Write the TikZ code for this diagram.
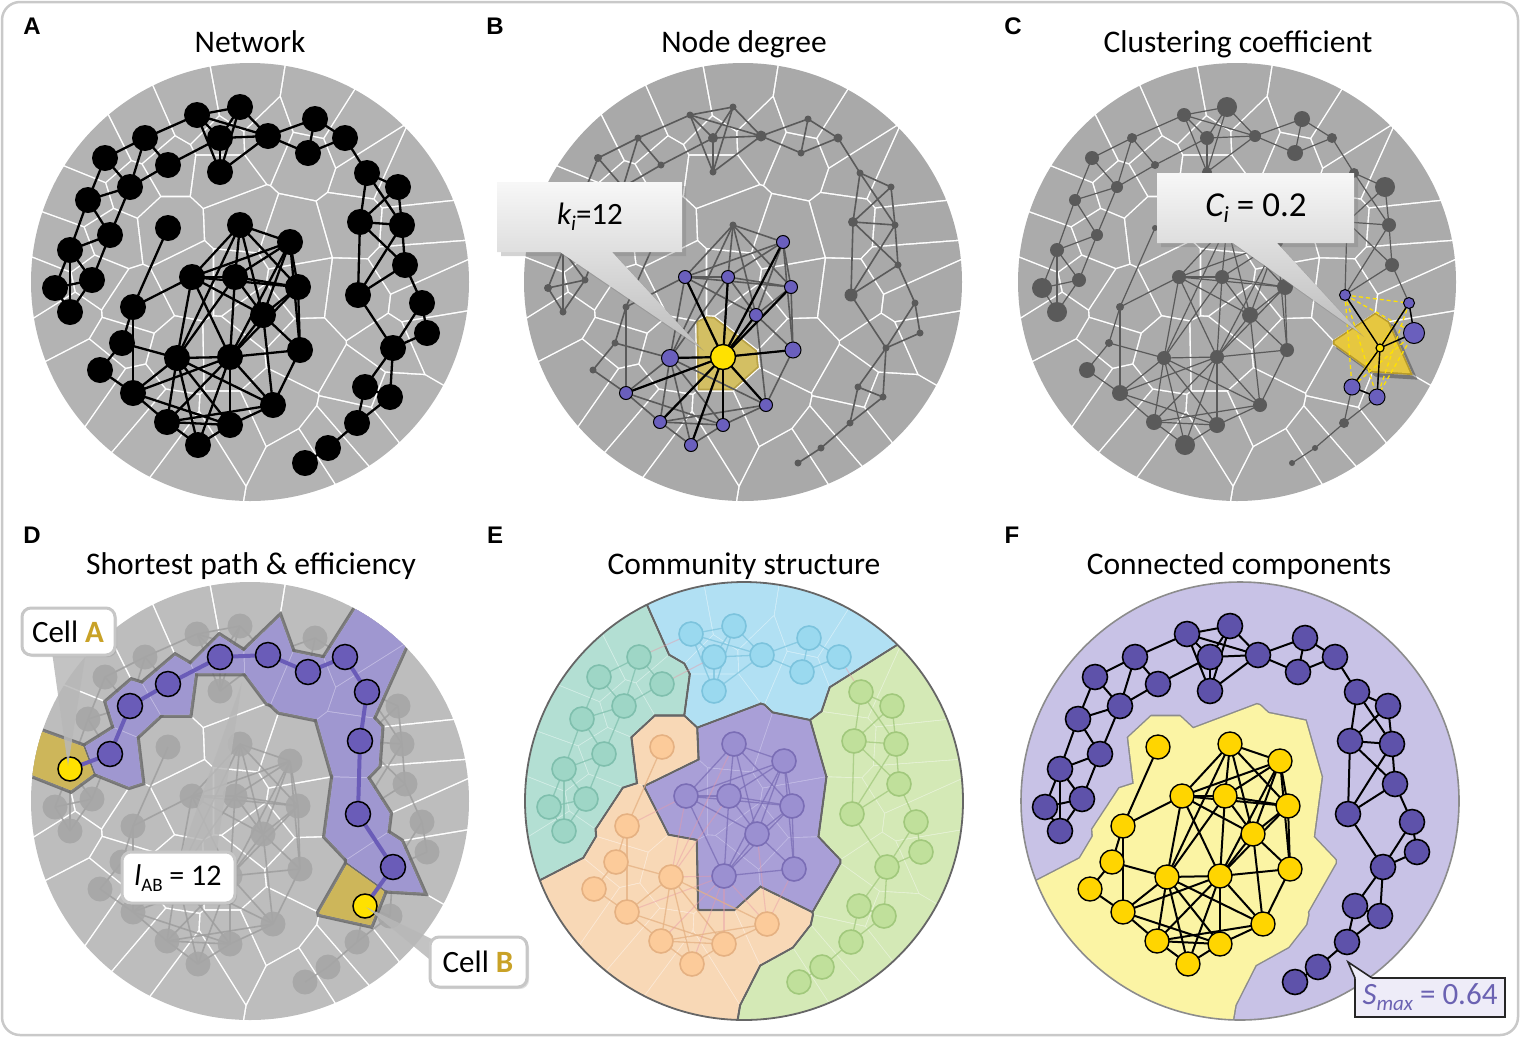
\documentclass[tikz,border=0pt]{standalone}
\usepackage{fontspec}
\setmainfont{Carlito}
\newfontfamily\letterfont{Liberation Sans}
\usetikzlibrary{shadows}

\definecolor{frameC}{HTML}{C9C9C9}
\definecolor{gA}{HTML}{B3B3B3}
\definecolor{gB}{HTML}{A9A9A9}
\definecolor{gC}{HTML}{ABABAB}
\definecolor{gD}{HTML}{BDBDBD}
\definecolor{netG}{HTML}{5A5A5A}
\definecolor{purpN}{HTML}{6A5FBD}
\definecolor{hubY}{HTML}{FFE100}
\definecolor{ycellB}{HTML}{D3BF63}
\definecolor{ycellBd}{HTML}{B9A347}
\definecolor{ycellC}{HTML}{E6C740}
\definecolor{ycellCd}{HTML}{B89B2A}
\definecolor{fadeN}{HTML}{A6A6A6}
\definecolor{fadeE}{HTML}{9C9C9C}
\definecolor{pathP}{HTML}{6A5CB8}
\definecolor{lavL}{HTML}{C2BCE3}
\definecolor{lavM}{HTML}{9F97D0}
\definecolor{ycellD}{HTML}{CDB65A}
\definecolor{ycellDL}{HTML}{E0CF86}
\definecolor{darkB}{HTML}{6A6A6A}
\definecolor{goldC}{HTML}{C9A227}
\definecolor{comC1}{HTML}{B3DFD3}
\definecolor{comL1}{HTML}{D6EFE8}
\definecolor{comN1}{HTML}{9ED6C6}
\definecolor{comD1}{HTML}{7FBFAD}
\definecolor{comC2}{HTML}{B1E0F3}
\definecolor{comL2}{HTML}{D5EFF9}
\definecolor{comN2}{HTML}{9AD9EF}
\definecolor{comD2}{HTML}{7CC3DD}
\definecolor{comC3}{HTML}{D4E9B6}
\definecolor{comL3}{HTML}{E8F3D9}
\definecolor{comN3}{HTML}{C0E09B}
\definecolor{comD3}{HTML}{A1C87C}
\definecolor{comC4}{HTML}{F8D8B6}
\definecolor{comL4}{HTML}{FCEBDA}
\definecolor{comN4}{HTML}{FCCB9A}
\definecolor{comD4}{HTML}{E5B182}
\definecolor{comC5}{HTML}{A99FD7}
\definecolor{comL5}{HTML}{C4BDE6}
\definecolor{comN5}{HTML}{9B90D1}
\definecolor{comD5}{HTML}{7A6DB5}
\definecolor{interE}{HTML}{E79AA8}
\definecolor{darkE}{HTML}{666666}
\definecolor{Fcol1}{HTML}{C8C2E6}
\definecolor{Fcol2}{HTML}{FBF4A4}
\definecolor{FnodeP}{HTML}{5E52AA}
\definecolor{FnodeY}{HTML}{FFD500}
\definecolor{smaxC}{HTML}{6B62B2}
\definecolor{smaxF}{HTML}{EEECF8}

\newcommand\setsite[3]{\expandafter\def\csname sx#1\endcsname{#2}\expandafter\def\csname sy#1\endcsname{#3}}
\setsite{1}{197}{115}\setsite{2}{240}{107}\setsite{3}{220}{138}\setsite{4}{268}{136}
\setsite{5}{220}{172}\setsite{6}{315}{119}\setsite{7}{308}{153}\setsite{8}{345}{138}
\setsite{9}{145}{138}\setsite{10}{105}{158}\setsite{11}{168}{165}\setsite{12}{130}{187}
\setsite{13}{88}{200}\setsite{14}{110}{235}\setsite{15}{70}{250}\setsite{16}{92}{280}
\setsite{17}{55}{288}\setsite{18}{70}{312}\setsite{19}{168}{228}\setsite{20}{240}{225}
\setsite{21}{290}{242}\setsite{22}{192}{277}\setsite{23}{235}{277}\setsite{24}{298}{287}
\setsite{25}{263}{315}\setsite{26}{133}{307}\setsite{27}{122}{343}\setsite{28}{100}{370}
\setsite{29}{133}{393}\setsite{30}{177}{358}\setsite{31}{230}{357}\setsite{32}{300}{350}
\setsite{33}{273}{405}\setsite{34}{167}{422}\setsite{35}{230}{425}\setsite{36}{198}{445}
\setsite{37}{367}{173}\setsite{38}{398}{187}\setsite{39}{360}{222}\setsite{40}{402}{225}
\setsite{41}{405}{265}\setsite{42}{358}{295}\setsite{43}{422}{303}\setsite{44}{427}{333}
\setsite{45}{393}{348}\setsite{46}{365}{387}\setsite{47}{390}{397}\setsite{48}{357}{423}
\setsite{49}{328}{448}\setsite{50}{305}{463}

\def\edgesall{1/2,1/3,1/4,1/5,2/3,2/4,2/5,3/4,3/5,4/5,4/6,4/7,6/7,6/8,7/8,8/37,1/9,9/10,9/11,9/12,10/12,10/13,11/12,3/11,12/13,12/14,13/14,13/15,14/15,14/16,15/16,15/17,15/18,16/17,16/18,17/18,19/26,22/26,26/27,26/29,27/28,27/30,28/29,29/30,29/31,29/34,29/35,20/22,21/22,22/23,22/24,22/25,22/30,22/31,20/21,20/23,20/24,20/25,20/30,21/23,21/24,21/25,21/31,21/32,23/24,23/25,23/30,23/31,24/25,24/31,24/32,25/31,25/32,25/33,30/31,30/33,30/34,30/35,30/36,31/32,31/33,31/34,31/35,31/36,32/33,33/34,33/35,34/35,34/36,35/36,37/38,37/39,37/40,38/39,38/40,39/40,39/41,40/41,39/42,40/42,41/42,41/43,42/45,43/44,43/45,44/45,45/46,45/47,46/47,46/48,47/48,48/49,49/50}
\def\pathedges{15/14,14/12,12/11,11/3,3/4,4/7,7/8,8/37,37/39,39/42,42/45,45/46}
\def\hubnb{21,22,23,24,25,29,30,32,33,34,35,36}

\newcommand\precompute{%
 \foreach \ii in {1,...,50}{%
  \gdef\tmplist{}%
  \foreach \jj in {1,...,50}{%
   \ifnum\ii=\jj\relax\else
    \edef\xa{\csname sx\ii\endcsname}\edef\ya{\csname sy\ii\endcsname}%
    \edef\xb{\csname sx\jj\endcsname}\edef\yb{\csname sy\jj\endcsname}%
    \pgfmathsetmacro\dx{\xb-\xa}%
    \pgfmathsetmacro\dy{\yb-\ya}%
    \pgfmathsetmacro\dd{veclen(\dx,\dy)}%
    \ifdim\dd pt<140pt\relax
     \pgfmathsetmacro\ux{\dx/\dd}%
     \pgfmathsetmacro\uy{\dy/\dd}%
     \pgfmathsetmacro\mx{\xa+0.5*\dx}%
     \pgfmathsetmacro\my{\ya+0.5*\dy}%
     \ifx\tmplist\empty
      \xdef\tmplist{\jj/\ux/\uy/\mx/\my}%
     \else
      \xdef\tmplist{\tmplist,\jj/\ux/\uy/\mx/\my}%
     \fi
    \fi
   \fi}%
  \global\expandafter\let\csname nb\ii\endcsname\tmplist
 }}

% #1 site, #2 community prefix, #3 gap same, #4 gap diff, #5 fill style
\newcommand\vcell[5]{%
 \begin{scope}
  \edef\ci{\csname #2#1\endcsname}%
  \edef\nbl{\csname nb#1\endcsname}%
  \foreach \jj/\ux/\uy/\mx/\my in \nbl {%
    \edef\cj{\csname #2\jj\endcsname}%
    \ifx\ci\cj\def\g{#3}\else\def\g{#4}\fi
    \pgfmathsetmacro\qx{\mx-(\g)*(\ux)}%
    \pgfmathsetmacro\qy{\my-(\g)*(\uy)}%
    \clip ({\qx-1000*(\uy)},{\qy+1000*(\ux)}) -- ({\qx+1000*(\uy)},{\qy-1000*(\ux)}) -- ({\qx-1000*(\ux)},{\qy-1000*(\uy)}) -- cycle;
  }%
  \fill[#5] (250,282) circle[radius=219pt];
 \end{scope}}

\begin{document}
\begin{tikzpicture}[x=1pt,y=-1pt,
  every node/.style={inner sep=0pt},
  dotA/.style={circle,fill=black,minimum size=26pt},
  purpnode/.style={circle,fill=purpN,draw=black,line width=1pt},
  titlefont/.style={font=\fontsize{31.5}{36}\selectfont, anchor=base},
  letterstyle/.style={font=\fontsize{24}{24}\selectfont\letterfont\bfseries, anchor=base},
  callfont/.style={font=\fontsize{31}{36}\selectfont}]
\useasboundingbox (0,0) rectangle (1520,1037);

% ---------- data ----------
\foreach \ii in {1,...,50}{%
  \expandafter\xdef\csname cE\ii\endcsname{3}%
  \expandafter\xdef\csname cF\ii\endcsname{1}%
  \expandafter\xdef\csname cD\ii\endcsname{0}%
  \expandafter\xdef\csname rB\ii\endcsname{3.5}}
\foreach \ii in {1,...,8}{\expandafter\xdef\csname cE\ii\endcsname{2}}
\foreach \ii in {9,...,18}{\expandafter\xdef\csname cE\ii\endcsname{1}}
\foreach \ii in {19,26,27,28,29,30,33,34,35,36}{\expandafter\xdef\csname cE\ii\endcsname{4}}
\foreach \ii in {20,21,22,23,24,25,31,32}{\expandafter\xdef\csname cE\ii\endcsname{5}}
\foreach \ii in {19,...,36}{\expandafter\xdef\csname cF\ii\endcsname{2}}
\foreach \ii in {14,12,11,3,4,7,8,37,39,42,45}{\expandafter\xdef\csname cD\ii\endcsname{1}}
\foreach \ii in {15,46}{\expandafter\xdef\csname cD\ii\endcsname{2}}
\foreach \ii/\rr in {3/5,4/5.5,39/5,42/6.5,10/4,17/4,8/4.5}{\expandafter\xdef\csname rB\ii\endcsname{\rr}}
\foreach \ii/\rr in {1/7,2/10,3/7,4/6,5/5,6/8,7/8,8/5,9/5,10/7,11/4,12/6,13/6,14/6,15/7,16/7,17/10,18/10,19/3,20/7,21/6,22/7,23/7,24/8,25/8,26/4,27/4,28/8,29/8,30/7,31/7,32/7,33/7,34/8,35/8,36/10,37/5,38/10,39/6,40/7,41/7,42/5,43/5,44/10,45/4,46/8,47/8,48/5,49/3,50/3}{\expandafter\xdef\csname rC\ii\endcsname{\rr}}
\precompute

% ---------- frame ----------
\draw[line width=2.5pt, draw=frameC, rounded corners=18pt] (2,2) rectangle (1518,1035);

% ---------- titles ----------
\node[letterstyle] (labA) at (32,34) {A};
\node[letterstyle] (labB) at (495,34) {B};
\node[letterstyle] (labC) at (1013,34) {C};
\node[letterstyle] (labD) at (32,543) {D};
\node[letterstyle] (labE) at (495,543) {E};
\node[letterstyle] (labF) at (1012,543) {F};
\node[titlefont] (titA) at (250,52) {Network};
\node[titlefont] (titB) at (744,52) {Node degree};
\node[titlefont] (titC) at (1238,52) {Clustering coefficient};
\node[titlefont] (titD) at (251,574) {Shortest path \& efficiency};
\node[titlefont] (titE) at (744,574) {Community structure};
\node[titlefont] (titF) at (1239,574) {Connected components};

% ---------- Panel A ----------
\begin{scope}
 \foreach \ii in {1,...,50}{\vcell{\ii}{cD}{0.8}{0.8}{gA}}
 \foreach \ii in {1,...,50}{\coordinate (A\ii) at (\csname sx\ii\endcsname,\csname sy\ii\endcsname);}
 \foreach \a/\b in \edgesall {\draw[line width=2.3pt,black] (A\a) -- (A\b);}
 \foreach \ii in {1,...,50}{\node[dotA] (Ad\ii) at (A\ii) {};}
\end{scope}

% ---------- Panel B ----------
\begin{scope}[shift={(493,0)}]
 \foreach \ii in {1,...,50}{\vcell{\ii}{cD}{0.8}{0.8}{gB}}
 \vcell{31}{cD}{0.6}{0.6}{ycellBd}
 \vcell{31}{cD}{2.4}{2.4}{ycellB}
 \foreach \ii in {1,...,50}{\coordinate (B\ii) at (\csname sx\ii\endcsname,\csname sy\ii\endcsname);}
 \foreach \a/\b in \edgesall {\draw[line width=1.6pt,netG] (B\a) -- (B\b);}
 \foreach \ii in {1,...,50}{\edef\rr{\csname rB\ii\endcsname}\node[circle,fill=netG,minimum size={2*\rr*1pt}] (Bd\ii) at (B\ii) {};}
 \foreach \k in \hubnb {\draw[line width=2.2pt,black] (B31) -- (B\k);}
 \foreach \k in \hubnb {\node[purpnode,minimum size=13pt] (Bp\k) at (B\k) {};}
 \node[purpnode,minimum size=17pt] (Bp30b) at (B30) {};
 \node[purpnode,minimum size=16pt] (Bp32b) at (B32) {};
 \node[circle,fill=hubY,draw=black,line width=1.4pt,minimum size=25pt] (Bhub) at (B31) {};
\end{scope}
\path[drop shadow={opacity=0.35,shadow xshift=4pt,shadow yshift=-4pt}, top color=black!3, bottom color=black!26]
  (497,182) -- (682,182) -- (682,252) -- (612,252) -- (700,347) -- (560,252) -- (497,252) -- cycle;
\node[callfont] (kbox) at (590,217) {{\itshape k}\raisebox{-6pt}{\fontsize{21}{21}\selectfont\itshape i}=12};

% ---------- Panel C ----------
\begin{scope}[shift={(987,0)}]
 \foreach \ii in {1,...,50}{\vcell{\ii}{cD}{0.8}{0.8}{gC}}
 \foreach \ii in {1,...,50}{\coordinate (C\ii) at (\csname sx\ii\endcsname,\csname sy\ii\endcsname);}
 \foreach \a/\b in \edgesall {\draw[line width=1.2pt,netG] (C\a) -- (C\b);}
 \foreach \ii in {1,...,50}{\edef\rr{\csname rC\ii\endcsname}\node[circle,fill=netG,minimum size={2*\rr*1pt}] (Cd\ii) at (C\ii) {};}
 \begin{scope}[shift={(4,4)}]\vcell{45}{cD}{-1}{-1}{black,opacity=0.3}\end{scope}
 \vcell{45}{cD}{-0.5}{-0.5}{ycellCd}
 \vcell{45}{cD}{1.2}{1.2}{ycellC}
 \foreach \a/\b in {42/43,42/44,42/46,42/47,43/46,43/47,44/46,44/47}{\draw[line width=1.3pt,hubY,dashed,dash pattern=on 4pt off 3pt] (C\a) -- (C\b);}
 \foreach \a/\b in {45/42,45/43,45/44,45/46,45/47,43/44,46/47}{\draw[line width=1.4pt,black] (C\a) -- (C\b);}
 \node[purpnode,minimum size=11pt] (Cp42) at (C42) {};
 \node[purpnode,minimum size=11pt] (Cp43) at (C43) {};
 \node[purpnode,minimum size=21pt] (Cp44) at (C44) {};
 \node[purpnode,minimum size=16pt] (Cp46) at (C46) {};
 \node[purpnode,minimum size=16pt] (Cp47) at (C47) {};
 \node[circle,fill=hubY,draw=black,line width=1.2pt,minimum size=8pt] (Chub) at (C45) {};
\end{scope}
\path[drop shadow={opacity=0.35,shadow xshift=4pt,shadow yshift=-4pt}, top color=black!3, bottom color=black!26]
  (1157,173) -- (1354,173) -- (1354,243) -- (1277,243) -- (1360,333) -- (1233,243) -- (1157,243) -- cycle;
\node[font=\fontsize{35}{40}\selectfont] (cbox) at (1256,208) {{\itshape C}\raisebox{-6pt}{\fontsize{23}{23}\selectfont\itshape i} = 0.2};

% ---------- Panel D ----------
\begin{scope}[shift={(0,519)}]
 \foreach \ii in {1,...,50}{\vcell{\ii}{cD}{0.8}{0.8}{gD}}
 \foreach \ii in {1,...,50}{\coordinate (D\ii) at (\csname sx\ii\endcsname,\csname sy\ii\endcsname);}
 \foreach \a/\b in \edgesall {\draw[line width=1.6pt,fadeE,opacity=0.8] (D\a) -- (D\b);}
 \foreach \ii in {1,...,50}{\node[circle,fill=fadeN,opacity=0.9,minimum size=25pt] (Dd\ii) at (D\ii) {};}
 \foreach \ii in {14,12,11,3,4,7,8,37,39,42,45,15,46}{\vcell{\ii}{cD}{-2.4}{-2.4}{darkB,opacity=0.85}}
 \foreach \ii in {14,12,11,3,4,7,8,37,39,42,45}{\vcell{\ii}{cD}{-0.4}{1}{lavL}}
 \foreach \ii in {15,46}{\vcell{\ii}{cD}{-0.4}{1}{ycellDL}}
 \foreach \ii in {14,12,11,3,4,7,8,37,39,42,45}{\vcell{\ii}{cD}{0.5}{1}{lavM}}
 \foreach \ii in {15,46}{\vcell{\ii}{cD}{1}{1}{ycellD}}
 \foreach \a/\b in \pathedges {\draw[line width=4pt,pathP] (D\a) -- (D\b);}
 \foreach \ii in {14,12,11,3,4,7,8,37,39,42,45}{\node[circle,fill=pathP,draw=black,line width=1.5pt,minimum size=25pt] (Dp\ii) at (D\ii) {};}
 \node[circle,fill=hubY,draw=black,line width=1.5pt,minimum size=24pt] (DcellA) at (D15) {};
 \node[circle,fill=hubY,draw=black,line width=1.5pt,minimum size=24pt] (DcellB) at (D46) {};
\end{scope}
% callouts D
\fill[black!28,opacity=0.85] (52,652) -- (86,652) -- (68,766) -- cycle;
\fill[black!28,opacity=0.85] (180,856) -- (216,856) -- (242,682) -- cycle;
\fill[black!28,opacity=0.85] (440,943) -- (440,968) -- (366,907) -- cycle;
\draw[fill=white,draw=black!22,line width=3pt,rounded corners=9pt,drop shadow={opacity=0.25,shadow xshift=2pt,shadow yshift=-2pt}] (22,608) rectangle (115,655);
\draw[fill=white,draw=black!22,line width=3pt,rounded corners=9pt,drop shadow={opacity=0.25,shadow xshift=2pt,shadow yshift=-2pt}] (122,852) rectangle (235,903);
\draw[fill=white,draw=black!22,line width=3pt,rounded corners=9pt,drop shadow={opacity=0.25,shadow xshift=2pt,shadow yshift=-2pt}] (430,937) rectangle (527,987);
\node[callfont] (cellA) at (68,632) {Cell {\bfseries\color{goldC}A}};
\node[font=\fontsize{30}{36}\selectfont] (lab) at (178,878) {{\itshape l}\raisebox{-6pt}{\fontsize{19}{19}\selectfont AB} = 12};
\node[callfont] (cellB) at (478,962) {Cell {\bfseries\color{goldC}B}};

% ---------- Panel E ----------
\begin{scope}[shift={(494,519)}]
 \fill[darkE] (250,282) circle[radius=219pt];
 \foreach \ii in {1,...,50}{\edef\cc{\csname cE\ii\endcsname}\edef\tmp{\noexpand\vcell{\ii}{cE}{-0.4}{1.3}{comL\cc}}\tmp}
 \foreach \ii in {1,...,50}{\edef\cc{\csname cE\ii\endcsname}\edef\tmp{\noexpand\vcell{\ii}{cE}{0.45}{1.3}{comC\cc}}\tmp}
 \draw[darkE,line width=1.8pt] (250,282) circle[radius=219pt];
 \foreach \ii in {1,...,50}{\coordinate (E\ii) at (\csname sx\ii\endcsname,\csname sy\ii\endcsname);}
 \foreach \a/\b in \edgesall {\edef\ca{\csname cE\a\endcsname}\edef\cb{\csname cE\b\endcsname}%
   \ifx\ca\cb\edef\tmp{\noexpand\draw[line width=1.3pt,draw=comD\ca,opacity=0.75] (E\a) -- (E\b);}%
   \else\edef\tmp{\noexpand\draw[line width=1.1pt,draw=interE,opacity=0.45] (E\a) -- (E\b);}\fi\tmp}
 \foreach \ii in {1,...,50}{\edef\cc{\csname cE\ii\endcsname}\edef\tmp{\noexpand\node[circle,minimum size=24pt,fill=comN\cc,draw=comD\cc,line width=1.6pt] (Ed\ii) at (E\ii) {};}\tmp}
\end{scope}

% ---------- Panel F ----------
\begin{scope}[shift={(990,519)}]
 \fill[black!45] (250,282) circle[radius=219pt];
 \foreach \ii in {1,...,50}{\edef\cc{\csname cF\ii\endcsname}\edef\tmp{\noexpand\vcell{\ii}{cF}{-0.4}{0.8}{Fcol\cc}}\tmp}
 \draw[black!45,line width=1.6pt] (250,282) circle[radius=219pt];
 \foreach \ii in {1,...,50}{\coordinate (F\ii) at (\csname sx\ii\endcsname,\csname sy\ii\endcsname);}
 \foreach \a/\b in \edgesall {\draw[line width=2pt,black] (F\a) -- (F\b);}
 \foreach \ii in {1,...,18,37,38,...,50}{\node[circle,minimum size=25pt,fill=FnodeP,draw=black,line width=1.6pt] (Fd\ii) at (F\ii) {};}
 \foreach \ii in {19,...,36}{\node[circle,minimum size=24pt,fill=FnodeY,draw=black,line width=1.4pt] (Fd\ii) at (F\ii) {};}
\end{scope}
\fill[smaxF] (1355,978) rectangle (1505,1017);
\draw[black!85,line width=1.6pt] (1372,978) -- (1505,978) -- (1505,1017) -- (1355,1017) -- (1355,978);
\fill[smaxF] (1356,979) -- (1348,962) -- (1372,979) -- cycle;
\draw[black!85,line width=1.6pt] (1355,978) -- (1348,962) -- (1372,978);
\node[font=\fontsize{31}{36}\selectfont, text=smaxC] (smax) at (1430,997) {{\itshape S}\raisebox{-6pt}{\fontsize{21}{21}\selectfont\itshape max} = 0.64};
\end{tikzpicture}
\end{document}
